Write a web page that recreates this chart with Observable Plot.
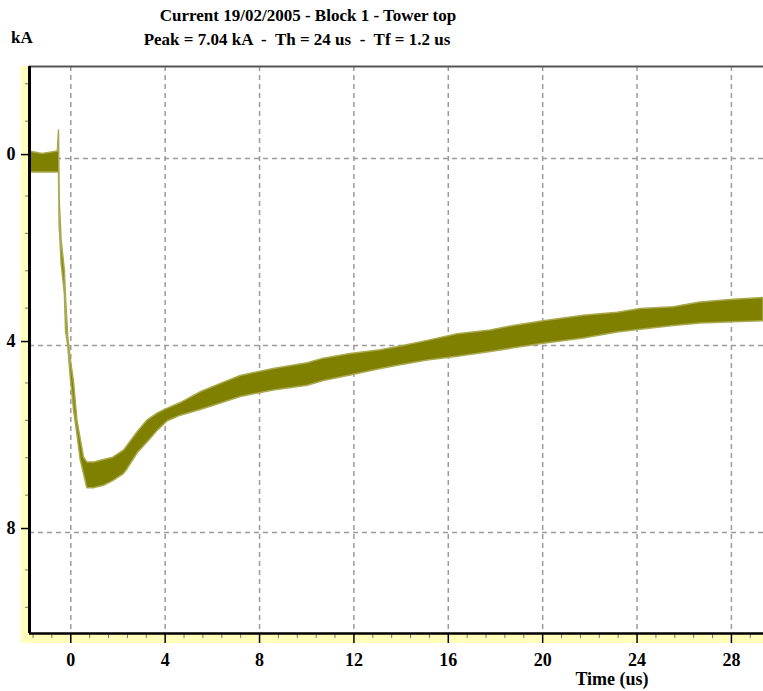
<!DOCTYPE html>
<html>
<head>
<meta charset="utf-8">
<script src="https://cdn.jsdelivr.net/npm/d3@7"></script>
<script src="https://cdn.jsdelivr.net/npm/@observablehq/plot@0.6"></script>
<style>
  html, body { margin: 0; padding: 0; background: white; }
  #chart { width: 763px; height: 691px; }
</style>
</head>
<body>
<div id="chart"></div>
<script>
// ---- data (time in us, current in kA; band = trace noise envelope) ----
const time = [-1.75, -1.2, -0.55, -0.5, -0.47, -0.45, -0.39, -0.25, -0.2, -0.11, 0, 0.14, 0.28, 0.42, 0.56, 0.7, 1.0, 1.4, 1.8, 2.25, 2.4, 2.84, 3.26, 3.69, 4.11, 4.66, 5.5, 6.36, 7.2, 8.6, 10.04, 10.72, 11.86, 13.14, 13.98, 15.13, 16.4, 17.8, 18.77, 20.04, 21.74, 23.18, 24.15, 25.55, 26.69, 28.09, 29.36];
const bandLow = [-0.15, -0.1, -0.15, -0.6, 0.9, 1.1, 1.75, 2.4, 3.0, 3.8, 4.3, 4.8, 5.6, 6.0, 6.4, 6.5, 6.5, 6.45, 6.4, 6.25, 6.15, 5.85, 5.6, 5.45, 5.35, 5.23, 5.0, 4.82, 4.65, 4.5, 4.38, 4.28, 4.18, 4.1, 4.02, 3.9, 3.76, 3.68, 3.58, 3.48, 3.36, 3.3, 3.22, 3.18, 3.08, 3.02, 2.98];
const bandHigh = [0.3, 0.3, 0.3, 0.3, 1.5, 1.6, 2.25, 2.9, 3.7, 4.0, 4.7, 5.4, 5.9, 6.45, 6.75, 7.05, 7.05, 7.0, 6.9, 6.75, 6.65, 6.3, 6.07, 5.82, 5.62, 5.5, 5.38, 5.24, 5.1, 4.96, 4.86, 4.76, 4.64, 4.5, 4.42, 4.32, 4.24, 4.14, 4.06, 3.96, 3.85, 3.72, 3.66, 3.58, 3.53, 3.5, 3.48];

const xTicks = [0, 4, 8, 12, 16, 20, 24, 28];
const yTicks = [0, 4, 8];
const xDomain = [-1.75, 29.36];
const yDomain = [-1.97, 10.16];

const titleLine1 = "Current 19/02/2005 - Block 1 - Tower top";
const titleLine2 = "Peak = 7.04 kA  -  Th = 24 us  -  Tf = 1.2 us";
const yUnit = "kA";
const xLabel = "Time (us)";

const data = time.map((t, i) => ({t, lo: bandLow[i], hi: bandHigh[i]}));
const minorX = d3.range(-1.6, 29.4, 0.8).filter(v => !xTicks.some(m => Math.abs(m - v) < 1e-6));
const minorY = d3.range(-1.6, 10.2, 0.8).filter(v => !yTicks.some(m => Math.abs(m - v) < 1e-6));

const W = 763, H = 691, mT = 66, mL = 29, mR = 0, mB = 58;
const font = "'Liberation Serif', 'Times New Roman', serif";

const plot = Plot.plot({
  width: W, height: H,
  marginTop: mT, marginLeft: mL, marginRight: mR, marginBottom: mB,
  x: {domain: xDomain, label: null},
  y: {domain: yDomain, reverse: true, label: null},
  style: {fontFamily: font, fontSize: "18px", fontWeight: "bold", background: "white", color: "black"},
  marks: [
    Plot.gridX(xTicks, {stroke: "#9a9a9a", strokeOpacity: 1, strokeWidth: 1.5, strokeDasharray: "5,4"}),
    Plot.gridY(yTicks, {stroke: "#9a9a9a", strokeOpacity: 1, strokeWidth: 1.5, strokeDasharray: "5,4"}),
    Plot.areaY(data, {x: "t", y1: "lo", y2: "hi", fill: "#808000", fillOpacity: 1, stroke: "#a9a94f", strokeWidth: 1.5, curve: "linear"}),
    Plot.axisY(minorY, {tickSize: 4, text: null, label: null, stroke: "#777", strokeWidth: 1}),
    Plot.axisY(yTicks, {tickSize: 8, tickPadding: 6, label: null, stroke: "black", strokeWidth: 1.5, dy: -4, fontSize: 18}),
    Plot.axisX(minorX, {tickSize: 5, text: null, label: null, stroke: "#777", strokeWidth: 1}),
    Plot.axisX(xTicks, {tickSize: 10, tickPadding: 10, label: null, stroke: "black", strokeWidth: 1.5, fontSize: 18}),
    Plot.ruleY([yDomain[0]], {stroke: "#555", strokeWidth: 2}),
    Plot.ruleY([yDomain[1]], {stroke: "black", strokeWidth: 2.5}),
    Plot.ruleX([xDomain[0]], {stroke: "black", strokeWidth: 3})
  ]
});

const svg = d3.select(plot);
// pale yellow axis strips behind everything
const bg = svg.insert("g", ":first-child");
bg.append("rect").attr("x", mL - 8).attr("y", mT).attr("width", 8).attr("height", H - mT - mB + 10).attr("fill", "#ffffbb");
bg.append("rect").attr("x", mL - 8).attr("y", H - mB).attr("width", W - mL + 8).attr("height", 10).attr("fill", "#ffffbb");

const txt = svg.append("g").attr("font-family", font).attr("font-weight", "bold").attr("fill", "black");
txt.append("text").attr("x", 308).attr("y", 21).attr("text-anchor", "middle").attr("font-size", 17).text(titleLine1);
txt.append("text").attr("x", 297).attr("y", 45).attr("text-anchor", "middle").attr("font-size", 17).style("white-space", "pre").text(titleLine2);
txt.append("text").attr("x", 11).attr("y", 43).attr("text-anchor", "start").attr("font-size", 17).text(yUnit);
txt.append("text").attr("x", 612).attr("y", 685).attr("text-anchor", "middle").attr("font-size", 18).text(xLabel);

document.getElementById("chart").appendChild(plot);
</script>
</body>
</html>
